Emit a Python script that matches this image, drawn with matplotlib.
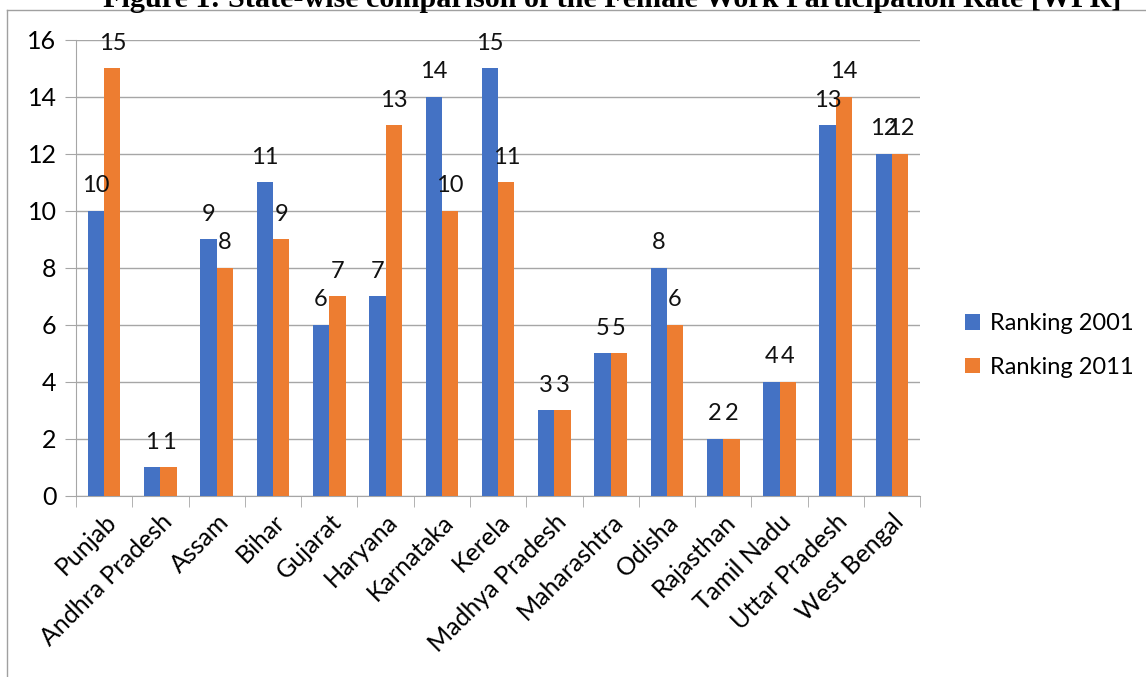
import matplotlib.pyplot as plt
import numpy as np
from matplotlib.lines import Line2D

states = ["Punjab", "Andhra Pradesh", "Assam", "Bihar", "Gujarat", "Haryana",
          "Karnataka", "Kerela", "Madhya Pradesh", "Maharashtra", "Odisha",
          "Rajasthan", "Tamil Nadu", "Uttar Pradesh", "West Bengal"]
rank_2001 = [10, 1, 9, 11, 6, 7, 14, 15, 3, 5, 8, 2, 4, 13, 12]
rank_2011 = [15, 1, 8, 9, 7, 13, 10, 11, 3, 5, 6, 2, 4, 14, 12]

plt.rcParams['font.family'] = ['Lato', 'DejaVu Sans']

fig = plt.figure(figsize=(11.46, 6.77), dpi=100)
ax = fig.add_axes([0.0663, 0.2674, 0.7367, 0.6736])

x = np.arange(len(states))
w = 0.29
b1 = ax.bar(x - w / 2, rank_2001, w, color="#4472C4", label="Ranking 2001", zorder=3)
b2 = ax.bar(x + w / 2, rank_2011, w, color="#ED7D31", label="Ranking 2011", zorder=3)

for bars in (b1, b2):
    for r in bars:
        ax.annotate(str(int(r.get_height())), (r.get_x() + r.get_width() / 2, r.get_height()),
                    xytext=(0, 18), textcoords="offset points", ha="center", va="center",
                    fontsize=17, color="#111111")

ax.set_xlim(-0.5, len(states) - 0.5)
ax.set_ylim(0, 16)
ax.set_yticks(range(0, 17, 2))
ax.set_xticks(x)
ax.set_xticklabels(states, rotation=45, ha="right", rotation_mode="anchor", fontsize=18)
ax.set_xticks(np.arange(-0.5, len(states)), minor=True)
ax.tick_params(axis="x", which="major", length=0, pad=10)
ax.tick_params(axis="x", which="minor", length=8, color="#A6A6A6")
ax.tick_params(axis="y", length=8, color="#A6A6A6", labelsize=18, pad=6)
ax.grid(axis="y", color="#A6A6A6", linewidth=1, zorder=0)
for s in ["top", "right"]:
    ax.spines[s].set_visible(False)
for s in ["left", "bottom"]:
    ax.spines[s].set_color("#A6A6A6")

ax.legend(loc="center left", bbox_to_anchor=(1.028, 0.33), frameon=False, fontsize=17,
          handlelength=0.65, handleheight=0.65, labelspacing=0.95, handletextpad=0.4)

fig.add_artist(Line2D([7 / 1146, 7 / 1146], [0, 1 - 10 / 677], color="#A0A0A0", lw=1))
fig.add_artist(Line2D([7 / 1146, 1], [1 - 10 / 677, 1 - 10 / 677], color="#A0A0A0", lw=1))

fig.text(612 / 1146, 1 - 7 / 677, "Figure 1: State-wise comparison of the Female Work Participation Rate [WPR]",
         ha="center", va="baseline", fontsize=21.7, fontweight="bold", family="Liberation Serif")

fig.savefig("out.png", dpi=100)
